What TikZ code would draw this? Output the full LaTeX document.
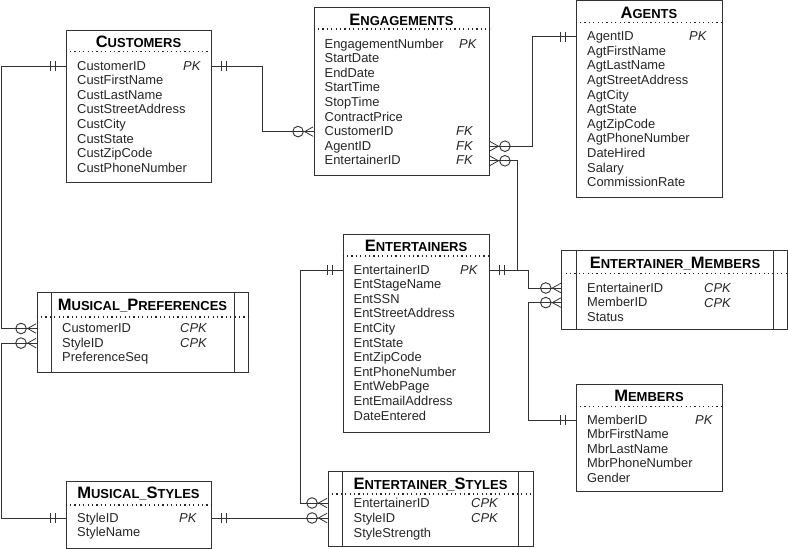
\documentclass[tikz,border=0pt]{standalone}
\usepackage{fontspec}
\setmainfont{Liberation Sans}
\usetikzlibrary{arrows.meta, positioning}
\newcommand{\initcap}[1]{{\fontsize{16.5}{17}\selectfont #1}}
\tikzset{
    one/.tip={Rectangle[length=10pt,width=.9pt,line width=0pt,sep=0pt]Bar[width=10pt,line width=.9pt,sep=4.5pt]Bar[width=10pt,line width=.9pt,sep=0pt]Rectangle[length=9.5pt,width=.9pt,line width=0pt,sep=0pt]},
    many/.tip={Circle[open,length=11.5pt,width=11.5pt,line width=.9pt,sep=0pt]Straight Barb[reversed,length=8.5pt,width=9.5pt,line width=.8pt,sep=-8.5pt]Rectangle[length=8.5pt,width=.8pt,line width=0pt,sep=0pt]}
}
\begin{document}
\begin{tikzpicture}[
    x=1pt, y=-1pt,
    tbl/.style={rectangle, draw=black!80, line width=1pt, inner sep=0pt},
    rule/.style={line width=1.2pt, draw=black!85, dash pattern=on 1.2pt off 3.2pt},
    inner/.style={draw=black!80, line width=1pt},
    title/.style={font=\bfseries\fontsize{13}{14}\selectfont, inner sep=0pt, text height=11pt, text depth=0pt},
    field/.style={font=\fontsize{12.9}{14}\selectfont, inner sep=0pt, text width=130pt, align=left, text height=11.2pt, text depth=3pt, text=black!85},
    key/.style={font=\itshape\fontsize{12.9}{14}\selectfont, inner sep=0pt, anchor=west, text height=11.2pt, text depth=3pt, text=black!85},
    conn/.style={draw=black!80, line width=.9pt}
]
    \useasboundingbox (0,0) rectangle (788,549);
    \fill[white] (0,0) rectangle (788,549);

    % Customers
    \node[tbl, minimum width=145pt, minimum height=152pt] (customers) at (138.5,106) {};
    \node[title] (cust-t) at (138.5,42) {\initcap{C}USTOMERS};
    \draw[rule] (customers.west |- 0,51.5) -- (customers.east |- 0,51.5);
    \node[field, anchor=west] (cust1) at (77,66) {CustomerID};
    \node[field, below=0pt of cust1] (cust2) {CustFirstName};
    \node[field, below=0pt of cust2] (cust3) {CustLastName};
    \node[field, below=0pt of cust3] (cust4) {CustStreetAddress};
    \node[field, below=0pt of cust4] (cust5) {CustCity};
    \node[field, below=0pt of cust5] (cust6) {CustState};
    \node[field, below=0pt of cust6] (cust7) {CustZipCode};
    \node[field, below=0pt of cust7] (cust8) {CustPhoneNumber};
    \node[key] (cust-pk) at (183,66) {PK};

    % Engagements
    \node[tbl, minimum width=175pt, minimum height=168pt] (engage) at (401.5,91) {};
    \node[title] (eng-t) at (401.5,20) {\initcap{E}NGAGEMENTS};
    \draw[rule] (engage.west |- 0,29) -- (engage.east |- 0,29);
    \node[field, anchor=west] (eng1) at (324.5,44) {EngagementNumber};
    \node[field, below=0pt of eng1] (eng2) {StartDate};
    \node[field, below=0pt of eng2] (eng3) {EndDate};
    \node[field, below=0pt of eng3] (eng4) {StartTime};
    \node[field, below=0pt of eng4] (eng5) {StopTime};
    \node[field, below=0pt of eng5] (eng6) {ContractPrice};
    \node[field, below=0pt of eng6] (eng7) {CustomerID};
    \node[field, below=0pt of eng7] (eng8) {AgentID};
    \node[field, below=0pt of eng8] (eng9) {EntertainerID};
    \node[key] (eng-pk) at (459,44) {PK};
    \node[key] (eng-fk1) at (456,131.5) {FK};
    \node[key] (eng-fk2) at (456,146) {FK};
    \node[key] (eng-fk3) at (456,160.5) {FK};

    % Agents
    \node[tbl, minimum width=146pt, minimum height=197pt] (agents) at (649,98.5) {};
    \node[title] (agt-t) at (649,13) {\initcap{A}GENTS};
    \draw[rule] (agents.west |- 0,22.5) -- (agents.east |- 0,22.5);
    \node[field, anchor=west] (agt1) at (587,36.5) {AgentID};
    \node[field, below=0pt of agt1] (agt2) {AgtFirstName};
    \node[field, below=0pt of agt2] (agt3) {AgtLastName};
    \node[field, below=0pt of agt3] (agt4) {AgtStreetAddress};
    \node[field, below=0pt of agt4] (agt5) {AgtCity};
    \node[field, below=0pt of agt5] (agt6) {AgtState};
    \node[field, below=0pt of agt6] (agt7) {AgtZipCode};
    \node[field, below=0pt of agt7] (agt8) {AgtPhoneNumber};
    \node[field, below=0pt of agt8] (agt9) {DateHired};
    \node[field, below=0pt of agt9] (agt10) {Salary};
    \node[field, below=0pt of agt10] (agt11) {CommissionRate};
    \node[key] (agt-pk) at (689,36.5) {PK};

    % Entertainers
    \node[tbl, minimum width=146pt, minimum height=198pt] (entert) at (416,333) {};
    \node[title] (ent-t) at (416,246) {\initcap{E}NTERTAINERS};
    \draw[rule] (entert.west |- 0,256) -- (entert.east |- 0,256);
    \node[field, anchor=west] (ent1) at (353.5,270) {EntertainerID};
    \node[field, below=0pt of ent1] (ent2) {EntStageName};
    \node[field, below=0pt of ent2] (ent3) {EntSSN};
    \node[field, below=0pt of ent3] (ent4) {EntStreetAddress};
    \node[field, below=0pt of ent4] (ent5) {EntCity};
    \node[field, below=0pt of ent5] (ent6) {EntState};
    \node[field, below=0pt of ent6] (ent7) {EntZipCode};
    \node[field, below=0pt of ent7] (ent8) {EntPhoneNumber};
    \node[field, below=0pt of ent8] (ent9) {EntWebPage};
    \node[field, below=0pt of ent9] (ent10) {EntEmailAddress};
    \node[field, below=0pt of ent10] (ent11) {DateEntered};
    \node[key] (ent-pk) at (460,270) {PK};

    % Entertainer_Members
    \node[tbl, minimum width=225.5pt, minimum height=79pt] (entmem) at (674.5,289.5) {};
    \draw[inner] ([xshift=15pt]entmem.north west) -- ([xshift=15pt]entmem.south west);
    \draw[inner] ([xshift=-14pt]entmem.north east) -- ([xshift=-14pt]entmem.south east);
    \node[title] (em-t) at (675,263) {\initcap{E}NTERTAINER\_\initcap{M}EMBERS};
    \draw[rule] (entmem.west |- 0,273.5) -- (entmem.east |- 0,273.5);
    \node[field, anchor=west] (em1) at (587,288) {EntertainerID};
    \node[field, below=0pt of em1] (em2) {MemberID};
    \node[field, below=0pt of em2] (em3) {Status};
    \node[key] (em-k1) at (704,288) {CPK};
    \node[key] (em-k2) at (704,303) {CPK};

    % Members
    \node[tbl, minimum width=146pt, minimum height=107pt] (members) at (649,437.5) {};
    \node[title] (mbr-t) at (649,396) {\initcap{M}EMBERS};
    \draw[rule] (members.west |- 0,406.5) -- (members.east |- 0,406.5);
    \node[field, anchor=west] (mbr1) at (587,420) {MemberID};
    \node[field, below=0pt of mbr1] (mbr2) {MbrFirstName};
    \node[field, below=0pt of mbr2] (mbr3) {MbrLastName};
    \node[field, below=0pt of mbr3] (mbr4) {MbrPhoneNumber};
    \node[field, below=0pt of mbr4] (mbr5) {Gender};
    \node[key] (mbr-pk) at (695,420) {PK};

    % Musical_Preferences
    \node[tbl, minimum width=211pt, minimum height=80pt] (muspref) at (142.5,332) {};
    \draw[inner] ([xshift=15pt]muspref.north west) -- ([xshift=15pt]muspref.south west);
    \draw[inner] ([xshift=-14.5pt]muspref.north east) -- ([xshift=-14.5pt]muspref.south east);
    \node[title] (mp-t) at (142.5,305) {\initcap{M}USICAL\_\initcap{P}REFERENCES};
    \draw[rule] (muspref.west |- 0,317) -- (muspref.east |- 0,317);
    \node[field, anchor=west] (mp1) at (62,328.5) {CustomerID};
    \node[field, below=0pt of mp1] (mp2) {StyleID};
    \node[field, below=0pt of mp2] (mp3) {PreferenceSeq};
    \node[key] (mp-k1) at (180,328.5) {CPK};
    \node[key] (mp-k2) at (180,343) {CPK};

    % Musical_Styles
    \node[tbl, minimum width=145pt, minimum height=67pt] (musstyle) at (138.5,514.5) {};
    \node[title] (ms-t) at (138.5,493) {\initcap{M}USICAL\_\initcap{S}TYLES};
    \draw[rule] (musstyle.west |- 0,505) -- (musstyle.east |- 0,505);
    \node[field, anchor=west] (ms1) at (77,518) {StyleID};
    \node[field, below=0pt of ms1] (ms2) {StyleName};
    \node[key] (ms-pk) at (179,518) {PK};

    % Entertainer_Styles
    \node[tbl, minimum width=205pt, minimum height=75pt] (entstyle) at (430.5,509) {};
    \draw[inner] ([xshift=15pt]entstyle.north west) -- ([xshift=15pt]entstyle.south west);
    \draw[inner] ([xshift=-15pt]entstyle.north east) -- ([xshift=-15pt]entstyle.south east);
    \node[title] (es-t) at (430.5,484) {\initcap{E}NTERTAINER\_\initcap{S}TYLES};
    \draw[rule] (entstyle.west |- 0,494) -- (entstyle.east |- 0,494);
    \node[field, anchor=west] (es1) at (353.5,503) {EntertainerID};
    \node[field, anchor=west] (es2) at (353.5,518) {StyleID};
    \node[field, anchor=west] (es3) at (353.5,533.5) {StyleStrength};
    \node[key] (es-k1) at (471,503) {CPK};
    \node[key] (es-k2) at (471,518) {CPK};

    % Connectors
    \coordinate (left-a) at (1,0);
    \coordinate (cust-bend) at (262,0);
    \coordinate (agt-bend) at (532,0);
    \coordinate (eng-bend) at (517,0);
    \coordinate (mem-bend) at (528,0);
    \coordinate (ent-bend) at (300,0);

    \draw[conn, {one}-{many}] (customers.west |- cust1) -- (left-a |- cust1) -- (left-a |- mp1) -- (muspref.west |- mp1);
    \draw[conn, {one}-{many}] (musstyle.west |- ms1) -- (left-a |- ms1) -- (left-a |- mp2) -- (muspref.west |- mp2);
    \draw[conn, {one}-{many}] (customers.east |- cust1) -- (cust-bend |- cust1) -- (cust-bend |- eng7) -- (engage.west |- eng7);
    \draw[conn, {one}-{many}] (agents.west |- agt1) -- (agt-bend |- agt1) -- (agt-bend |- eng8) -- (engage.east |- eng8);
    \draw[conn, {one}-{many}] (entert.east |- ent1) -- (mem-bend |- ent1) -- (mem-bend |- em1) -- (entmem.west |- em1);
    \draw[conn, -{many}] (eng-bend |- ent1) -- (eng-bend |- eng9) -- (engage.east |- eng9);
    \draw[conn, {one}-{many}] (members.west |- mbr1) -- (mem-bend |- mbr1) -- (mem-bend |- em2) -- (entmem.west |- em2);
    \draw[conn, {one}-{many}] (entert.west |- ent1) -- (ent-bend |- ent1) -- (ent-bend |- es1) -- (entstyle.west |- es1);
    \draw[conn, {one}-{many}] (musstyle.east |- ms1) -- (entstyle.west |- es2);
\end{tikzpicture}
\end{document}
